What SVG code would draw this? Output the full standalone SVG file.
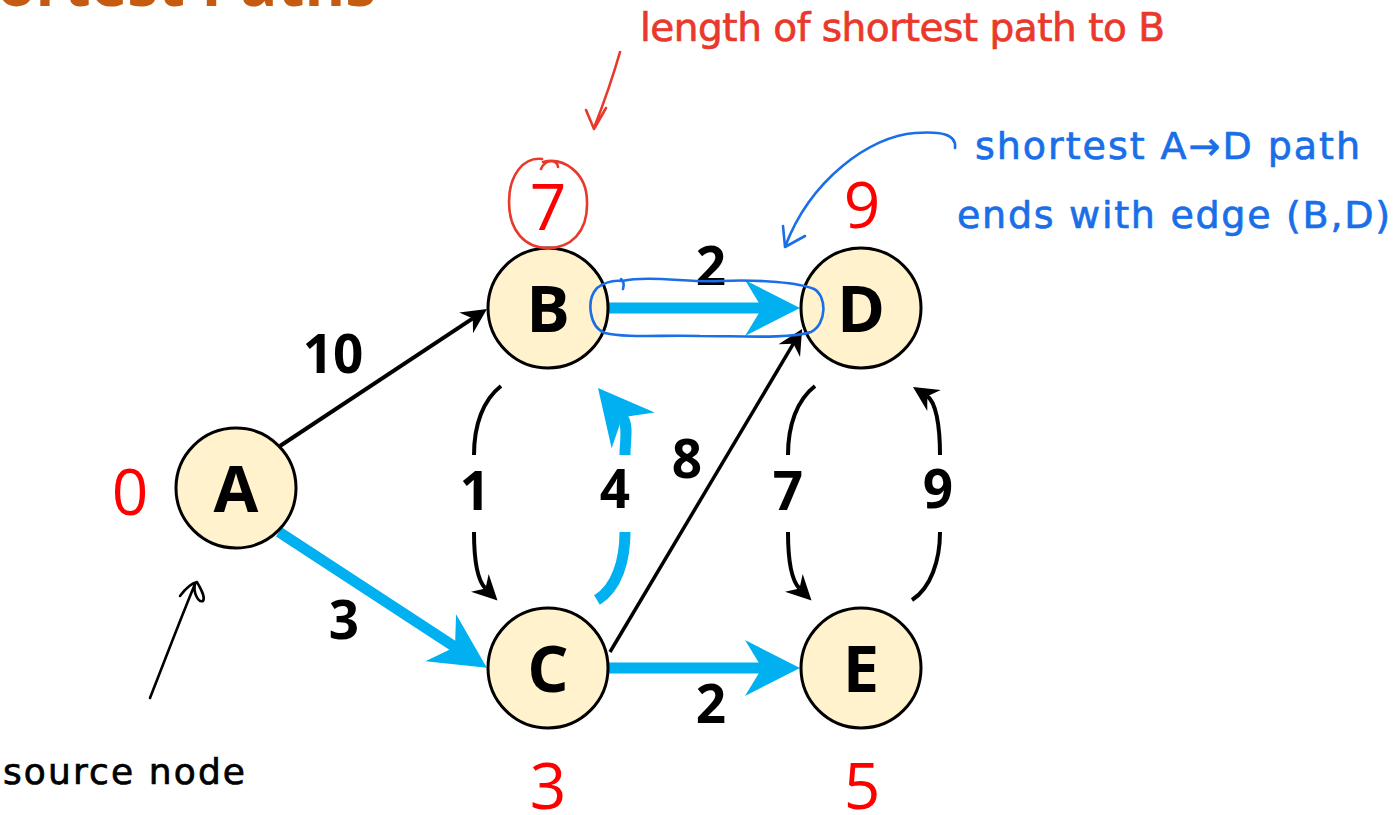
<svg xmlns="http://www.w3.org/2000/svg" width="1394" height="815" viewBox="0 0 1394 815">
<style>
.node{fill:#FFF2CC;stroke:#000;stroke-width:3}
.nl{font-family:"Open Sans","Liberation Sans",sans-serif;font-weight:700;font-size:65px;text-anchor:middle;fill:#000}
.dist{font-family:"Open Sans","Liberation Sans",sans-serif;font-weight:400;font-size:64px;text-anchor:middle;fill:#FF0000}
.el{font-family:"Open Sans","Liberation Sans",sans-serif;font-weight:700;font-size:53px;text-anchor:middle;fill:#000}
.blk{fill:none;stroke:#000;stroke-width:4}
.blu{fill:none;stroke:#00B0F0;stroke-width:11}
.hw{font-family:"DejaVu Sans",sans-serif;font-weight:400;stroke-width:0.7}
.ink-r{fill:none;stroke:#E8392C;stroke-width:2.6;stroke-linecap:round;stroke-linejoin:round}
.ink-b{fill:none;stroke:#1A6FE8;stroke-width:2.6;stroke-linecap:round;stroke-linejoin:round}
.ink-k{fill:none;stroke:#000;stroke-width:2.6;stroke-linecap:round;stroke-linejoin:round}
</style>
<defs>
<marker id="ahK" markerUnits="userSpaceOnUse" viewBox="-30 -15 32 30" markerWidth="32" markerHeight="30" refX="-17" refY="0" orient="auto">
<path d="M0,0 L-25,-12.5 L-17,0 L-25,12.5 Z" fill="#000"/>
</marker>
<marker id="ahB" markerUnits="userSpaceOnUse" viewBox="-60 -32 62 64" markerWidth="62" markerHeight="64" refX="-38" refY="0" orient="auto">
<path d="M0,0 L-55,-28 L-38,0 L-55,28 Z" fill="#00B0F0"/>
</marker>
</defs>
<rect width="1394" height="815" fill="#fff"/>
<text x="376" y="6" font-family="Open Sans, Liberation Sans, sans-serif" font-weight="700" font-size="62" fill="#C55A11" text-anchor="end">Shortest Paths</text>

<g id="connectors">
<g id="edge-A-B"><path class="blk" d="M280,446 L472.8,318.4" marker-end="url(#ahK)"/><text class="el" x="333" y="373">10</text></g>
<g id="edge-A-C"><path class="blu" d="M279,532 L455,647" marker-end="url(#ahB)"/><text class="el" x="344" y="639">3</text></g>
<g id="edge-B-D"><path class="blu" d="M609,308 L762,308" marker-end="url(#ahB)"/><text class="el" x="711" y="285">2</text></g>
<g id="edge-C-E"><path class="blu" d="M609,668 L762,668" marker-end="url(#ahB)"/><text class="el" x="711" y="723">2</text></g>
<g id="edge-C-D"><path class="blk" style="stroke-width:3.5" d="M610,652 L793.4,343.7" marker-end="url(#ahK)"/><text class="el" x="687" y="478">8</text></g>
<g id="edge-B-C"><path class="blk" d="M501,386 C483,400 474,425 474,455"/><path class="blk" d="M474,532 C474,560 477,580 485.5,588.5" marker-end="url(#ahK)"/><text class="el" x="475" y="510">1</text></g>
<g id="edge-C-B"><path class="blu" d="M597,600 C617,588 625,560 625,532"/><path class="blu" d="M625,455 C625,440 628.7,424.9 622.3,417.2" marker-end="url(#ahB)"/><text class="el" x="615" y="508">4</text></g>
<g id="edge-D-E"><path class="blk" d="M815,386 C797,400 788,425 788,455"/><path class="blk" d="M788,532 C788,560 791,580 799.5,588.5" marker-end="url(#ahK)"/><text class="el" x="788" y="510">7</text></g>
<g id="edge-E-D"><path class="blk" d="M912,600 C931,588 940,560 940,532"/><path class="blk" d="M940,455 C940,425 935.7,401.6 927.3,396.2" marker-end="url(#ahK)"/><text class="el" x="938" y="508">9</text></g>
</g>

<g id="node-A"><circle class="node" cx="236" cy="488" r="60"/><text class="nl" x="236" y="512">A</text><text class="dist" x="130" y="515">0</text></g>
<g id="node-B"><circle class="node" cx="548" cy="308" r="60"/><text class="nl" x="548" y="332">B</text><text class="dist" x="548" y="230">7</text></g>
<g id="node-C"><circle class="node" cx="548" cy="668" r="60"/><text class="nl" x="548" y="692">C</text><text class="dist" x="548" y="809">3</text></g>
<g id="node-D"><circle class="node" cx="861" cy="308" r="60"/><text class="nl" x="861" y="332">D</text><text class="dist" x="862" y="228">9</text></g>
<g id="node-E"><circle class="node" cx="861" cy="668" r="60"/><text class="nl" x="861" y="692">E</text><text class="dist" x="862" y="809">5</text></g>

<g id="annotations">
<text class="hw" x="640" y="41" font-size="39" fill="#E8392C" stroke="#E8392C" textLength="525" lengthAdjust="spacing">length of shortest path to B</text>
<path class="ink-r" d="M620,52 C612,80 603,105 594,128 M586,110 L594,129 L606,108"/>
<path class="ink-r" d="M541,169 C545,159 557,159 558,167 M543,162 C563,157 587,172 587,202 C588,233 570,248 548,248 C525,248 509,231 509,202 C509,174 524,157 542,159"/>
<text class="hw" x="975" y="159" font-size="38" fill="#1A6FE8" stroke="#1A6FE8" textLength="385" lengthAdjust="spacing">shortest A→D path</text>
<text class="hw" x="957" y="228" font-size="38" fill="#1A6FE8" stroke="#1A6FE8" textLength="433" lengthAdjust="spacing">ends with edge (B,D)</text>
<path class="ink-b" d="M955,148 C957,134 940,131 915,133 C870,136 810,180 785,247 M783,226 L785,247 L805,236"/>
<path class="ink-b" d="M622,281 C650,275 690,283 720,281 C760,279 800,283 814,289 C827,296 827,324 811,332 C790,339 740,336 700,336 C660,335 625,338 605,333 C589,327 586,300 597,288 C605,282 614,280 622,281 M621,279 C624,281 624,285 623,289"/>
<path class="ink-k" d="M150,698 C165,660 180,620 195,584 M180,596 C186,588 192,583 197,582 C200,588 206,597 203,601 C198,603 193,592 195,584"/>
<text class="hw" x="3" y="784" font-size="36" fill="#000" stroke="#000" textLength="242" lengthAdjust="spacing">source node</text>
</g>
</svg>
